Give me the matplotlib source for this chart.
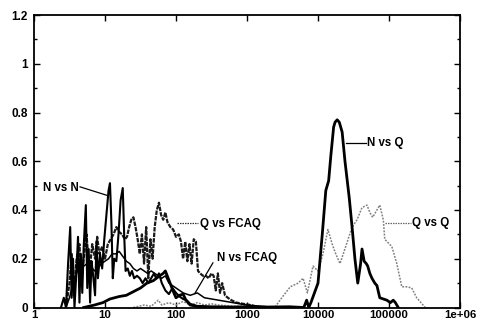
import matplotlib
matplotlib.use("Agg")
import matplotlib.pyplot as plt
import numpy as np
from matplotlib.ticker import FixedLocator, MultipleLocator, NullLocator

# ---- data (x given as log10 exponents, y as similarity) ----
nn_logx = [0.38, 0.42, 0.45, 0.48, 0.51, 0.53, 0.55, 0.57, 0.60, 0.62, 0.64, 0.66, 0.68, 0.70,
           0.73, 0.75, 0.77, 0.79, 0.81, 0.83, 0.86, 0.88, 0.90, 0.93, 0.96, 0.99, 1.02, 1.05,
           1.07, 1.09, 1.11, 1.13, 1.16, 1.19, 1.22, 1.25, 1.27, 1.29, 1.32, 1.35, 1.38, 1.41,
           1.45, 1.49, 1.53, 1.57, 1.61, 1.65, 1.69, 1.72, 1.76, 1.80, 1.85, 1.90, 1.95, 2.00,
           2.05, 2.10, 2.15, 2.20, 2.30, 2.50]
nn_y = [0, 0.04, 0, 0.18, 0.33, 0.04, 0.20, 0, 0.16, 0.29, 0.02, 0.22, 0.06, 0.25,
        0.42, 0.08, 0.24, 0.02, 0.19, 0.14, 0.05, 0.27, 0.12, 0.22, 0.16, 0.28, 0.38, 0.48,
        0.51, 0.35, 0.12, 0.20, 0.19, 0.30, 0.44, 0.49, 0.30, 0.15, 0.16, 0.13, 0.15, 0.12,
        0.13, 0.12, 0.10, 0.12, 0.10, 0.12, 0.14, 0.12, 0.14, 0.10, 0.07, 0.055, 0.08, 0.06,
        0.045, 0.035, 0.03, 0.015, 0.005, 0]

qf_logx = [0.45, 0.50, 0.53, 0.56, 0.60, 0.64, 0.67, 0.70, 0.74, 0.78, 0.82, 0.86, 0.89, 0.92,
           0.96, 1.00, 1.04, 1.08, 1.12, 1.16, 1.20, 1.24, 1.28, 1.31, 1.34, 1.37, 1.40, 1.43,
           1.46, 1.49, 1.52, 1.55, 1.58, 1.61, 1.64, 1.67, 1.70, 1.73, 1.76, 1.79, 1.82, 1.85,
           1.88, 1.92, 1.96, 2.00, 2.04, 2.07, 2.10, 2.13, 2.16, 2.19, 2.22, 2.25, 2.28, 2.31,
           2.34, 2.38, 2.42, 2.46, 2.50, 2.53, 2.56, 2.59, 2.62, 2.65, 2.69, 2.73, 2.78, 2.85,
           2.95, 3.05, 3.20]
qf_y = [0, 0.10, 0.22, 0.05, 0.20, 0.26, 0.10, 0.20, 0.30, 0.14, 0.26, 0.20, 0.29, 0.22,
        0.25, 0.20, 0.26, 0.28, 0.30, 0.33, 0.31, 0.30, 0.28, 0.29, 0.33, 0.36, 0.37, 0.33,
        0.28, 0.22, 0.30, 0.18, 0.33, 0.12, 0.28, 0.20, 0.33, 0.40, 0.43, 0.38, 0.36, 0.39,
        0.35, 0.33, 0.32, 0.29, 0.30, 0.27, 0.20, 0.27, 0.19, 0.26, 0.18, 0.28, 0.27, 0.15,
        0.14, 0.13, 0.13, 0.12, 0.14, 0.13, 0.07, 0.14, 0.06, 0.10, 0.05, 0.04, 0.03, 0.02,
        0.015, 0.01, 0]

nf_logx = [0.45, 0.50, 0.55, 0.60, 0.65, 0.70, 0.75, 0.80, 0.85, 0.90, 0.95, 1.00, 1.05, 1.10,
           1.15, 1.20, 1.25, 1.30, 1.35, 1.40, 1.45, 1.50, 1.55, 1.60, 1.65, 1.70, 1.75, 1.80,
           1.85, 1.90, 1.95, 2.00, 2.05, 2.10, 2.15, 2.20, 2.25, 2.30, 2.35, 2.40, 2.50, 2.60,
           2.70, 2.80, 2.90, 3.00, 3.20, 3.40]
nf_y = [0, 0.04, 0.10, 0.14, 0.18, 0.17, 0.18, 0.17, 0.15, 0.16, 0.18, 0.19, 0.20, 0.22,
        0.22, 0.23, 0.21, 0.19, 0.18, 0.16, 0.15, 0.16, 0.15, 0.14, 0.15, 0.14, 0.13, 0.12,
        0.13, 0.10, 0.09, 0.08, 0.07, 0.06, 0.055, 0.05, 0.055, 0.06, 0.05, 0.04, 0.035, 0.03,
        0.025, 0.02, 0.015, 0.01, 0.005, 0]

nq_logx = [0.70, 0.85, 0.97, 1.07, 1.20, 1.30, 1.40, 1.50, 1.59, 1.68, 1.77, 1.82, 1.85, 1.89,
           1.93, 1.97, 2.00, 2.05, 2.10, 2.14, 2.20, 2.30, 2.50, 2.80, 3.00, 3.30, 3.60, 3.80,
           3.84, 3.87, 3.90, 4.00, 4.06, 4.11, 4.15, 4.18, 4.22, 4.24, 4.27, 4.30, 4.34, 4.38,
           4.44, 4.48, 4.52, 4.56, 4.60, 4.62, 4.65, 4.68, 4.70, 4.73, 4.76, 4.80, 4.83, 4.87,
           4.92, 4.97, 5.02, 5.06, 5.09, 5.13]
nq_y = [0, 0.01, 0.02, 0.035, 0.045, 0.05, 0.065, 0.08, 0.10, 0.11, 0.13, 0.14, 0.15, 0.12,
        0.09, 0.06, 0.04, 0.05, 0.055, 0.03, 0.01, 0.005, 0.003, 0.002, 0.003, 0.002, 0.003, 0,
        0.03, 0.0, 0.02, 0.10, 0.30, 0.48, 0.52, 0.62, 0.74, 0.76, 0.77, 0.76, 0.72, 0.60,
        0.45, 0.33, 0.20, 0.10, 0.18, 0.24, 0.19, 0.18, 0.17, 0.14, 0.12, 0.10, 0.09, 0.04,
        0.035, 0.03, 0.02, 0.03, 0.02, 0]

qq_logx = [1.40, 1.55, 1.65, 1.75, 1.80, 1.90, 2.00, 2.10, 2.20, 2.30, 2.40, 2.50, 2.60, 2.80,
           3.00, 3.20, 3.39, 3.49, 3.61, 3.72, 3.79, 3.85, 3.93, 4.00, 4.07, 4.14, 4.20, 4.25,
           4.31, 4.39, 4.48, 4.55, 4.62, 4.69, 4.73, 4.77, 4.83, 4.87, 4.92, 4.94, 5.04, 5.11,
           5.18, 5.25, 5.32, 5.39, 5.51]
qq_y = [0, 0.01, 0.005, 0.03, 0.01, 0.02, 0.01, 0.025, 0.01, 0.02, 0.01, 0.015, 0.01, 0.005,
        0.005, 0, 0, 0.04, 0.085, 0.10, 0.12, 0.06, 0.17, 0.15, 0.22, 0.32, 0.26, 0.22,
        0.18, 0.25, 0.33, 0.36, 0.41, 0.42, 0.39, 0.37, 0.40, 0.42, 0.36, 0.28, 0.25, 0.18,
        0.085, 0.085, 0.08, 0.04, 0]

x_ticks = [1, 10, 100, 1000, 10000, 100000, 1000000]
x_tick_labels = ["1", "10", "100", "1000", "10000", "100000", "1e+06"]
y_ticks = [0, 0.2, 0.4, 0.6, 0.8, 1.0, 1.2]
y_tick_labels = ["0", "0.2", "0.4", "0.6", "0.8", "1", "1.2"]

plt.rcParams['font.family'] = ['Liberation Sans', 'DejaVu Sans']
plt.rcParams['font.weight'] = 'bold'

fig = plt.figure(figsize=(4.8, 3.22), dpi=100)
ax = fig.add_axes([34/480, 1 - 307.5/322, 426/480, 292.5/322])

def X(lx):
    return 10 ** np.asarray(lx)

ax.plot(X(qq_logx), qq_y, color='#808080', lw=1.1, ls=(0, (1.2, 0.9)))
ax.plot(X(qf_logx), qf_y, color='#1a1a1a', lw=1.6, ls=(0, (2.0, 0.5)))
ax.plot(X(nf_logx), nf_y, color='black', lw=1.1)
ax.plot(X(nn_logx), nn_y, color='black', lw=1.5)
ax.plot(X(nq_logx), nq_y, color='black', lw=2.0)

ax.set_xscale('log')
ax.set_xlim(1, 1e6)
ax.set_ylim(0, 1.2)
ax.xaxis.set_major_locator(FixedLocator(x_ticks))
ax.xaxis.set_minor_locator(NullLocator())
ax.set_xticklabels(x_tick_labels)
ax.set_yticks(y_ticks)
ax.set_yticklabels(y_tick_labels)
ax.yaxis.set_minor_locator(MultipleLocator(0.1))

ax.tick_params(which='both', direction='in', top=True, right=True, width=1)
ax.tick_params(which='major', length=4)
ax.tick_params(which='minor', length=2)
ax.tick_params(axis='x', pad=1.5, labelsize=8.2)
ax.tick_params(axis='y', pad=4.5, labelsize=8.5)
for lab in ax.get_xticklabels() + ax.get_yticklabels():
    lab.set_fontweight('bold')
for s in ax.spines.values():
    s.set_linewidth(1.3)

fs = 8.3
# annotations
ax.text(1.34, 0.49, "N vs N", fontsize=fs, fontweight='bold', ha='left', va='center')
ax.plot([4.45, 10.7], [0.495, 0.46], color='black', lw=0.9)

ax.text(218, 0.343, "Q vs FCAQ", fontsize=fs, fontweight='bold', ha='left', va='center')
ax.plot([103, 204], [0.347, 0.347], color='#333333', lw=0.9, ls=(0, (1.2, 0.8)))

ax.text(378, 0.203, "N vs FCAQ", fontsize=fs, fontweight='bold', ha='left', va='center')
ax.plot([331, 186], [0.183, 0.06], color='black', lw=0.9)

ax.text(49000, 0.675, "N vs Q", fontsize=fs, fontweight='bold', ha='left', va='center')
ax.plot([24700, 47500], [0.675, 0.675], color='black', lw=0.9)

ax.text(210000, 0.347, "Q vs Q", fontsize=fs, fontweight='bold', ha='left', va='center')
ax.plot([87600, 204000], [0.347, 0.347], color='#666666', lw=0.9, ls=(0, (1.2, 0.8)))

fig.savefig("out.png", dpi=100)
